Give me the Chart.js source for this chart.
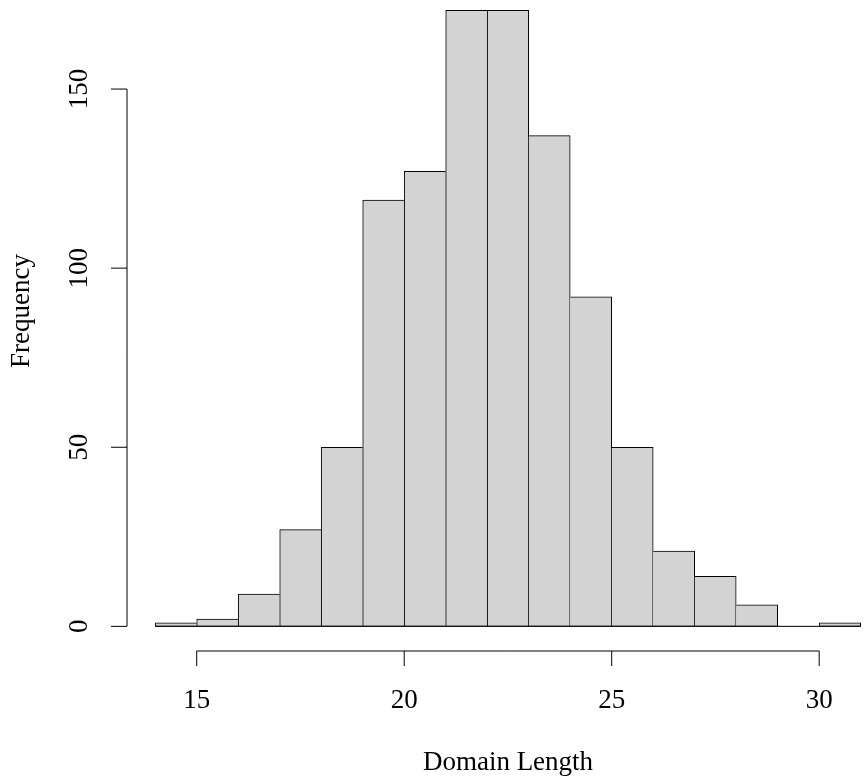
<!DOCTYPE html>
<html>
<head>
<meta charset="utf-8">
<script src="https://cdn.jsdelivr.net/npm/chart.js@4"></script>
<style>
  html, body { margin: 0; padding: 0; background: #fff; }
  #wrap { width: 864px; height: 780px; }
</style>
</head>
<body>
<div id="wrap"><canvas id="hist" width="864" height="780"></canvas></div>
<script>
// histogram breaks (bin edges) and counts per bin
const breaks = [14, 15, 16, 17, 18, 19, 20, 21, 22, 23, 24, 25, 26, 27, 28, 29, 30, 31];
const counts = [1, 2, 9, 27, 50, 119, 127, 172, 172, 137, 92, 50, 21, 14, 6, 0, 1];
const xTicks = [15, 20, 25, 30];
const yTicks = [0, 50, 100, 150];
const xTitle = "Domain Length";
const yTitle = "Frequency";

const fuente = "27px 'Liberation Serif', 'Times New Roman', serif";

const puntos = counts.map((c, i) => ({ x: (breaks[i] + breaks[i + 1]) / 2, y: c }));

// shared edges drawn only once, by the taller bar
function bordes(ctx) {
  const i = ctx.dataIndex;
  const c = counts[i];
  const prev = i > 0 ? counts[i - 1] : -1;
  const next = i < counts.length - 1 ? counts[i + 1] : -1;
  return {
    top: 1,
    bottom: 1,
    left: prev > c ? 0 : 1,
    right: c > next ? 1 : 0
  };
}

const ejesR = {
  id: "ejesR",
  afterDraw(chart) {
    const { ctx, chartArea, scales } = chart;
    const sx = scales.x, sy = scales.y;
    ctx.save();
    ctx.strokeStyle = "#000";
    ctx.fillStyle = "#000";
    ctx.lineWidth = 1;
    ctx.font = fuente;

    // baseline under the bars
    const y0 = sy.getPixelForValue(0);
    ctx.beginPath();
    ctx.moveTo(sx.getPixelForValue(breaks[0]), y0);
    ctx.lineTo(sx.getPixelForValue(breaks[breaks.length - 1]), y0);
    ctx.stroke();

    // x axis
    const ay = chartArea.bottom;
    ctx.beginPath();
    ctx.moveTo(sx.getPixelForValue(xTicks[0]), ay);
    ctx.lineTo(sx.getPixelForValue(xTicks[xTicks.length - 1]), ay);
    xTicks.forEach(t => {
      const px = sx.getPixelForValue(t);
      ctx.moveTo(px, ay);
      ctx.lineTo(px, ay + 15);
    });
    ctx.stroke();
    ctx.textAlign = "center";
    ctx.textBaseline = "middle";
    xTicks.forEach(t => {
      ctx.fillText(String(t), sx.getPixelForValue(t), ay + 50);
    });

    // y axis
    const ax = chartArea.left;
    ctx.beginPath();
    ctx.moveTo(ax, sy.getPixelForValue(yTicks[0]));
    ctx.lineTo(ax, sy.getPixelForValue(yTicks[yTicks.length - 1]));
    yTicks.forEach(t => {
      const py = sy.getPixelForValue(t);
      ctx.moveTo(ax, py);
      ctx.lineTo(ax - 16, py);
    });
    ctx.stroke();
    yTicks.forEach(t => {
      ctx.save();
      ctx.translate(ax - 47, sy.getPixelForValue(t));
      ctx.rotate(-Math.PI / 2);
      ctx.fillText(String(t), 0, 0);
      ctx.restore();
    });

    // titulos
    ctx.fillText(xTitle, 508, 763);
    ctx.save();
    ctx.translate(22, 311);
    ctx.rotate(-Math.PI / 2);
    ctx.fillText(yTitle, 0, 0);
    ctx.restore();

    ctx.restore();
  }
};

const ctx = document.getElementById("hist").getContext("2d");

const grafica = new Chart(ctx, {
  type: "bar",
  data: {
    datasets: [{
      label: yTitle,
      data: puntos,
      backgroundColor: "#d3d3d3",
      borderColor: "#000",
      borderWidth: bordes,
      borderSkipped: false,
      barPercentage: 1,
      categoryPercentage: 1
    }]
  },
  options: {
    responsive: false,
    animation: false,
    layout: { padding: { left: 127, right: 0, top: 0, bottom: 129 } },
    plugins: {
      legend: { display: false },
      tooltip: { enabled: false }
    },
    scales: {
      x: { type: "linear", min: 13.32, max: 31.08, offset: false, display: false },
      y: { type: "linear", min: -6.88, max: 174.86, display: false }
    }
  },
  plugins: [ejesR]
});
</script>
</body>
</html>
